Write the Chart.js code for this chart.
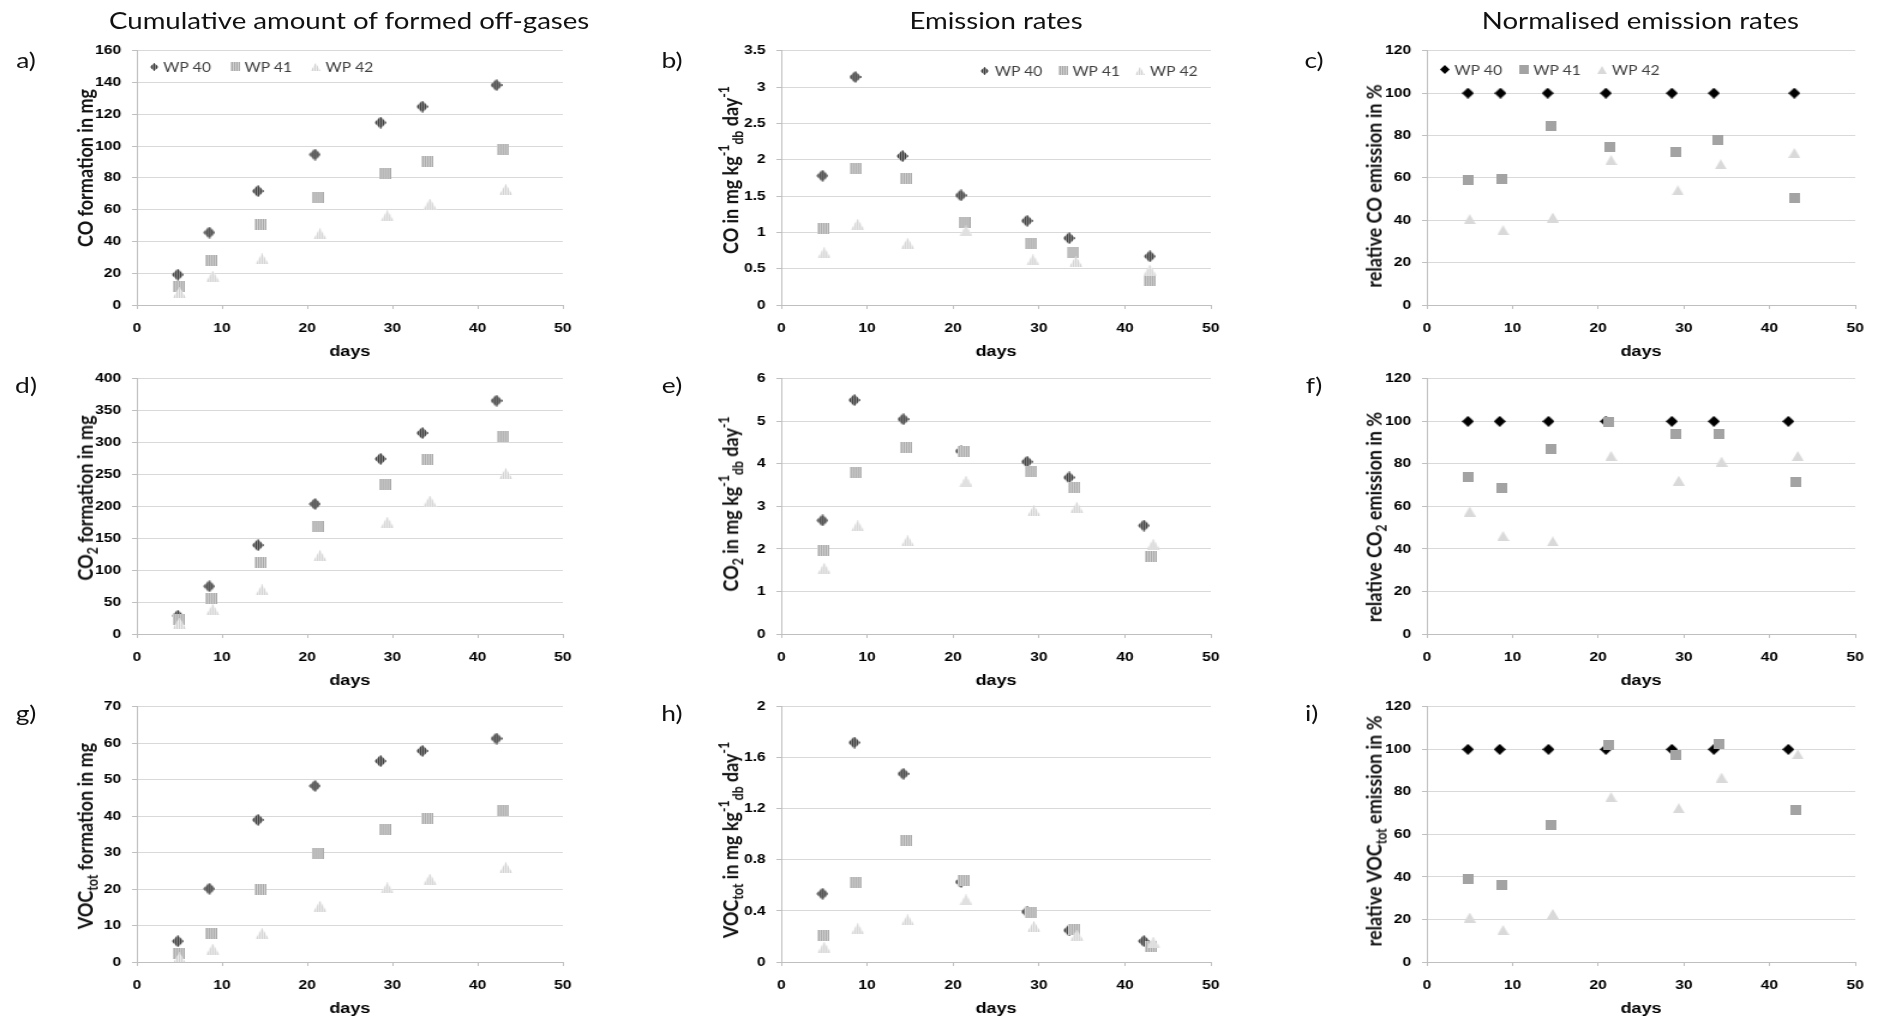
<!DOCTYPE html>
<html>
<head>
<meta charset="utf-8">
<title>Off-gas formation and emission rates</title>
<script src="https://cdn.jsdelivr.net/npm/chart.js@4.4.1/dist/chart.umd.min.js"></script>
<style>
  body { margin: 0; background: #fff; font-family: Lato, sans-serif; color: #111; overflow: hidden; }
  /* the whole figure is drawn narrow and stretched sideways */
  #page { position: relative; width: 1565px; height: 1021px; transform: scaleX(1.2); transform-origin: 0 0; }
  #page canvas { position: absolute; }
  .head, .tag, .ytitle { position: absolute; white-space: nowrap; transform: translate(-50%, -50%); }
  .head { font-size: 23px; }
  .tag { font-size: 22px; }
  .ytitle { font-weight: bold; font-size: 18px; line-height: 1; transform: translate(-50%, -50%) rotate(-90deg); }
  .ytitle sub, .ytitle sup { font-size: 0.68em; line-height: 0; }
</style>
</head>
<body>
<div id="page"></div>
<script>
// sampling days of each series
const days40 = [4.8, 8.5, 14.2, 20.9, 28.6, 33.5, 42.2];
const days41 = [4.9, 8.7, 14.5, 21.2, 29.1, 34.1, 43.0];
const days42 = [5.0, 8.9, 14.7, 21.5, 29.4, 34.4, 43.3];
// CO rate panels were plotted with a slightly different last day
const coRateDays40 = [4.8, 8.6, 14.1, 20.9, 28.6, 33.5, 42.9];
const coRateDays41 = [4.9, 8.7, 14.5, 21.3, 29.1, 34.0, 42.9];
const coRateDays42 = [5.0, 8.9, 14.7, 21.5, 29.3, 34.3, 42.9];

const seriesNames = ['WP 40', 'WP 41', 'WP 42'];

// CO
const coCum40 = [19.1, 45.6, 71.7, 94.7, 114.8, 124.9, 138.4];
const coCum41 = [11.9, 27.9, 50.5, 67.8, 82.6, 90.6, 97.6];
const coCum42 = [7.8, 18.1, 29.0, 44.8, 56.1, 63.5, 72.7];
const coRate40 = [1.78, 3.14, 2.05, 1.51, 1.16, 0.92, 0.67];
const coRate41 = [1.06, 1.88, 1.74, 1.14, 0.84, 0.72, 0.34];
const coRate42 = [0.72, 1.11, 0.85, 1.02, 0.62, 0.60, 0.48];
const coRel40 = [100, 100, 100, 100, 100, 100, 100];
const coRel41 = [59.0, 59.5, 84.6, 74.7, 72.0, 77.8, 50.5];
const coRel42 = [40.5, 35.3, 41.3, 68.4, 54.1, 66.4, 71.8];

// CO2
const co2Cum40 = [28.7, 74.8, 139.3, 203.8, 274.5, 315.0, 365.7];
const co2Cum41 = [22.0, 55.3, 111.6, 168.5, 235.0, 273.5, 308.8];
const co2Cum42 = [17.0, 38.4, 69.1, 123.0, 175.0, 208.4, 251.5];
const co2Rate40 = [2.67, 5.50, 5.05, 4.30, 4.05, 3.68, 2.55];
const co2Rate41 = [1.97, 3.79, 4.39, 4.28, 3.82, 3.45, 1.82];
const co2Rate42 = [1.54, 2.54, 2.19, 3.59, 2.90, 2.98, 2.11];
const co2Rel40 = [100, 100, 100, 100, 100, 100, 100];
const co2Rel41 = [73.6, 68.8, 87.0, 99.6, 94.2, 93.9, 71.5];
const co2Rel42 = [57.6, 46.1, 43.5, 83.7, 72.1, 81.1, 83.7];

// VOCtot
const vocCum40 = [5.7, 20.1, 39.0, 48.3, 55.1, 57.9, 61.3];
const vocCum41 = [2.4, 7.8, 20.0, 29.7, 36.4, 39.3, 41.6];
const vocCum42 = [1.1, 3.5, 7.8, 15.3, 20.3, 22.7, 25.9];
const vocRate40 = [0.535, 1.72, 1.475, 0.627, 0.394, 0.248, 0.164];
const vocRate41 = [0.207, 0.624, 0.949, 0.642, 0.389, 0.256, 0.12];
const vocRate42 = [0.115, 0.26, 0.33, 0.486, 0.279, 0.21, 0.156];
const vocRel40 = [100, 100, 100, 100, 100, 100, 100];
const vocRel41 = [38.8, 36.4, 64.3, 102.2, 97.4, 102.3, 71.7];
const vocRel42 = [20.9, 15.0, 22.6, 77.5, 72.3, 86.7, 97.6];

// axis ticks
const dayTicks = [0, 10, 20, 30, 40, 50];
const coCumTicks = [0, 20, 40, 60, 80, 100, 120, 140, 160];
const coRateTicks = [0, 0.5, 1, 1.5, 2, 2.5, 3, 3.5];
const co2CumTicks = [0, 50, 100, 150, 200, 250, 300, 350, 400];
const co2RateTicks = [0, 1, 2, 3, 4, 5, 6];
const vocCumTicks = [0, 10, 20, 30, 40, 50, 60, 70];
const vocRateTicks = [0, 0.4, 0.8, 1.2, 1.6, 2];
const relTicks = [0, 20, 40, 60, 80, 100, 120];

// ---- layout (x in unstretched page units) ----
const YW = 60, XH = 58, TP = 12, RP = 20;
const cols = [{ left: 113.8, width: 355.6 }, { left: 651.3, width: 357.2 }, { left: 1188.8, width: 357 }];
const rows = [{ top: 46, height: 259 }, { top: 374, height: 260 }, { top: 702, height: 260 }];
const tagX = [21.7, 560, 1095];
const tagY = [59, 384, 712];
const ytitleX = [70, 608, 1144];
const page = document.getElementById('page');

function makeMarker(shape, w, h, fill, stripe) {
  const c = document.createElement('canvas');
  c.width = w; c.height = h;
  const g = c.getContext('2d');
  g.beginPath();
  if (shape === 'diamond') {
    g.moveTo(w / 2, 0); g.lineTo(w, h / 2); g.lineTo(w / 2, h); g.lineTo(0, h / 2);
  } else if (shape === 'square') {
    g.rect(0, 0, w, h);
  } else {
    g.moveTo(w / 2, 0); g.lineTo(w, h); g.lineTo(0, h);
  }
  g.closePath();
  g.fillStyle = fill;
  g.fill();
  if (stripe) {
    g.save();
    g.clip();
    g.fillStyle = stripe;
    for (let x = 1; x < w; x += 2) g.fillRect(x, 0, 1, h);
    g.restore();
  }
  return c;
}

const hatched = [
  makeMarker('diamond', 10, 12, '#8c8c8c', '#3a3a3a'),
  makeMarker('square', 10, 11, '#d2d2d2', '#a8a8a8'),
  makeMarker('triangle', 11, 11, '#eeeeee', '#d2d2d2')
];
const solid = [
  makeMarker('diamond', 10, 11, '#000000'),
  makeMarker('square', 9, 10, '#a3a3a3'),
  makeMarker('triangle', 10, 10, '#d9d9d9')
];
// smaller copies for the legend rows
const hatchedKey = [
  makeMarker('diamond', 7, 8, '#8c8c8c', '#3a3a3a'),
  makeMarker('square', 8, 9, '#d2d2d2', '#a8a8a8'),
  makeMarker('triangle', 8, 8, '#eeeeee', '#d2d2d2')
];
const solidKey = [
  makeMarker('diamond', 8, 9, '#000000'),
  makeMarker('square', 8, 9, '#a3a3a3'),
  makeMarker('triangle', 8, 8, '#d9d9d9')
];

// legend drawn inside the plot area, one row
const wpLegend = {
  id: 'wpLegend',
  afterDatasetsDraw(chart, args, opts) {
    if (!opts || !opts.align) return;
    const ctx = chart.ctx, area = chart.chartArea;
    ctx.save();
    ctx.font = '13px Lato';
    ctx.fillStyle = '#404040';
    ctx.textBaseline = 'middle';
    const items = chart.data.datasets.map((ds, i) => ({ img: opts.keys[i], text: ds.label, w: ctx.measureText(ds.label).width }));
    const total = items.reduce((s, it) => s + 8 + it.w, 0) + opts.gap * (items.length - 1);
    let x = opts.align === 'end' ? area.right - opts.dx - total : area.left + opts.dx;
    const y = area.top + opts.dy;
    items.forEach(it => {
      ctx.drawImage(it.img, Math.round(x - it.img.width / 2), Math.round(y - it.img.height / 2));
      ctx.fillText(it.text, x + 8, y + 1);
      x += 8 + it.w + opts.gap;
    });
    ctx.restore();
  }
};

function addText(cls, html, x, y) {
  const d = document.createElement('div');
  d.className = cls;
  d.innerHTML = html;
  d.style.left = x + 'px';
  d.style.top = y + 'px';
  page.appendChild(d);
}

function drawPanel(p) {
  const col = cols[p.col], row = rows[p.row];
  const left = Math.round(col.left), right = Math.round(col.left + col.width);
  const canvas = document.createElement('canvas');
  canvas.width = YW + (right - left) + RP;
  canvas.height = TP + row.height + XH;
  canvas.style.left = (left - YW) + 'px';
  canvas.style.top = (row.top - TP) + 'px';
  page.appendChild(canvas);

  const markers = p.solid ? solid : hatched;
  const datasets = p.series.map((s, i) => ({
    label: seriesNames[i],
    data: s.days.map((d, k) => ({ x: d, y: s.values[k] })),
    pointStyle: markers[i],
    pointRadius: 5,
    order: 3 - i
  }));
  const tickFont = { weight: 'bold', size: 13 };
  if (p.legend) p.legend.keys = p.solid ? solidKey : hatchedKey;

  new Chart(canvas, {
    type: 'scatter',
    data: { datasets },
    options: {
      responsive: false,
      animation: false,
      events: [],
      layout: { padding: { top: TP, right: RP, left: 0, bottom: 0 } },
      plugins: {
        legend: { display: false },
        tooltip: { enabled: false },
        wpLegend: p.legend || false
      },
      scales: {
        x: {
          type: 'linear', min: 0, max: 50,
          afterFit: s => { s.height = XH; },
          afterBuildTicks: s => { s.ticks = dayTicks.map(v => ({ value: v })); },
          grid: { drawOnChartArea: false, tickLength: 4, tickColor: '#bfbfbf' },
          border: { color: '#bfbfbf' },
          ticks: { font: tickFont, color: '#000', padding: 12, maxRotation: 0, autoSkip: false, callback: v => String(v) },
          title: { display: true, text: 'days', font: { weight: 'bold', size: 15 }, color: '#000', padding: { top: 0, bottom: 2 } }
        },
        y: {
          type: 'linear', min: p.ticks[0], max: p.ticks[p.ticks.length - 1],
          afterFit: s => { s.width = YW; },
          afterBuildTicks: s => { s.ticks = p.ticks.map(v => ({ value: v })); },
          grid: { color: '#d9d9d9', tickLength: 4, tickColor: '#bfbfbf' },
          border: { color: '#bfbfbf' },
          ticks: { font: tickFont, color: '#000', padding: 9, autoSkip: false, callback: v => String(v) }
        }
      }
    },
    plugins: [wpLegend]
  });

  addText('tag', p.tag, p.col === 2 && p.row === 2 ? tagX[2] - 2 : tagX[p.col], tagY[p.row]);
  addText('ytitle', p.ytitle, ytitleX[p.col], p.ytitleY);
}

const ser = (d40, v40, d41, v41, d42, v42) => [
  { days: d40, values: v40 }, { days: d41, values: v41 }, { days: d42, values: v42 }
];

const panels = [
  { row: 0, col: 0, tag: 'a)', ticks: coCumTicks, ytitleY: 168,
    ytitle: 'CO formation in mg',
    series: ser(days40, coCum40, days41, coCum41, days42, coCum42),
    legend: { align: 'start', dx: 14, dy: 16, gap: 20 } },
  { row: 0, col: 1, tag: 'b)', ticks: coRateTicks, ytitleY: 170,
    ytitle: 'CO in mg kg<sup>-1</sup><sub>db</sub> day<sup>-1</sup>',
    series: ser(coRateDays40, coRate40, coRateDays41, coRate41, coRateDays42, coRate42),
    legend: { align: 'end', dx: 11, dy: 20, gap: 17 } },
  { row: 0, col: 2, tag: 'c)', ticks: relTicks, ytitleY: 186, solid: true,
    ytitle: 'relative CO emission in %',
    series: ser(coRateDays40, coRel40, coRateDays41, coRel41, coRateDays42, coRel42),
    legend: { align: 'start', dx: 15, dy: 19, gap: 18 } },
  { row: 1, col: 0, tag: 'd)', ticks: co2CumTicks, ytitleY: 498,
    ytitle: 'CO<sub>2</sub> formation in mg',
    series: ser(days40, co2Cum40, days41, co2Cum41, days42, co2Cum42) },
  { row: 1, col: 1, tag: 'e)', ticks: co2RateTicks, ytitleY: 504,
    ytitle: 'CO<sub>2</sub> in mg kg<sup>-1</sup><sub>db</sub> day<sup>-1</sup>',
    series: ser(days40, co2Rate40, days41, co2Rate41, days42, co2Rate42) },
  { row: 1, col: 2, tag: 'f)', ticks: relTicks, ytitleY: 517, solid: true,
    ytitle: 'relative CO<sub>2</sub> emission in %',
    series: ser(days40, co2Rel40, days41, co2Rel41, days42, co2Rel42) },
  { row: 2, col: 0, tag: 'g)', ticks: vocCumTicks, ytitleY: 836,
    ytitle: 'VOC<sub>tot</sub> formation in mg',
    series: ser(days40, vocCum40, days41, vocCum41, days42, vocCum42) },
  { row: 2, col: 1, tag: 'h)', ticks: vocRateTicks, ytitleY: 840,
    ytitle: 'VOC<sub>tot</sub> in mg kg<sup>-1</sup><sub>db</sub> day<sup>-1</sup>',
    series: ser(days40, vocRate40, days41, vocRate41, days42, vocRate42) },
  { row: 2, col: 2, tag: 'i)', ticks: relTicks, ytitleY: 831, solid: true,
    ytitle: 'relative VOC<sub>tot</sub> emission in %',
    series: ser(days40, vocRel40, days41, vocRel41, days42, vocRel42) }
];

addText('head', 'Cumulative amount of formed off-gases', 291, 20);
addText('head', 'Emission rates', 830, 20);
addText('head', 'Normalised emission rates', 1367, 20);
panels.forEach(drawPanel);
</script>
</body>
</html>
